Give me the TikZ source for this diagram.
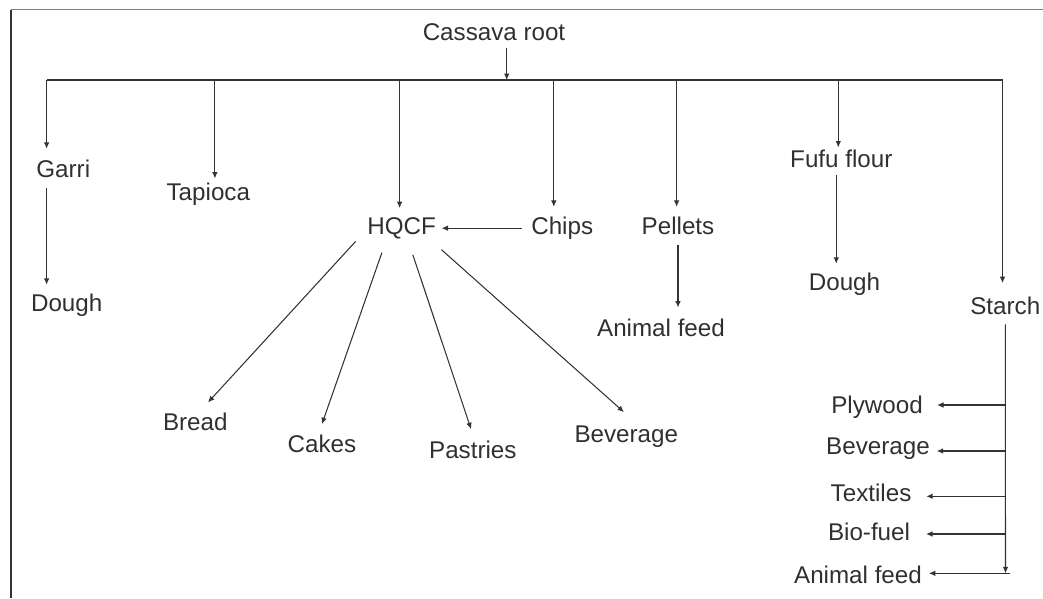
\documentclass[tikz,border=0pt]{standalone}
\usepackage{fontspec}
\setmainfont{Liberation Sans}
\usepackage{xcolor}
\usepackage{tikz}
\usetikzlibrary{positioning,arrows.meta}

\definecolor{txtgray}{HTML}{303030}
\definecolor{linegray}{HTML}{333333}

\begin{document}
\begin{tikzpicture}[
			x=0.025cm, y=-0.025cm,
			item/.style={
				font=\fontsize{17.2}{20}\selectfont, text=txtgray,
				inner sep=0pt, text height=12.5pt, text depth=3.5pt
			},
			arr/.style={-{Latex[length=4.6pt,width=4pt]}, line width=0.75pt, draw=linegray},
			link/.style={line width=0.75pt, draw=linegray}
			]
			\useasboundingbox (0,0) rectangle (1043,598);
			
			%==================== frame ====================
			\draw[line width=1.4pt, draw=gray] (11.3,9.5) -- (1043,9.5);
			\draw[line width=1.4pt, draw=black!80] (11.3,9.5) -- (11.3,598);
			
			%==================== root ====================
			\node[item] (root) at (494,34.2) {Cassava root};
			\coordinate (top) at (506.7,80);
			\coordinate (b1) at (46.6,80);
			\coordinate (b2) at (214.9,80);
			\coordinate (b3) at (399.6,80);
			\coordinate (b4) at (553.8,80);
			\coordinate (b5) at (676.6,80);
			\coordinate (b6) at (838.3,80);
			\coordinate (b7) at (1002.5,80);
			
			%==================== first level ====================
			\node[item] (garri) at (63.3,171) {Garri};
			\node[item] (tapioca) at (208.3,193.7) {Tapioca};
			\node[item] (hqcf) at (401.7,228.2) {HQCF};
			\node[item] (chips) at (562.2,228.2) {Chips};
			\node[item] (pellets) at (678,228.2) {Pellets};
			\node[item] (fufu) at (841.3,161.4) {Fufu flour};
			\node[item] (starch) at (1005.3,307.7) {Starch};
			
			%==================== second level ====================
			\node[item] (dough1) at (66.7,305.4) {Dough};
			\node[item] (feed1) at (661,330.4) {Animal feed};
			\node[item] (dough2) at (844.5,284.4) {Dough};
			
			\node[item] (bread) at (195.3,423.7) {Bread};
			\node[item] (cakes) at (321.9,446.4) {Cakes};
			\node[item] (pastries) at (472.8,452) {Pastries};
			\node[item] (bev1) at (626.3,436) {Beverage};
			
			\node[item] (plywood) at (877,407) {Plywood};
			\node[item] (bev2) at (878,447.7) {Beverage};
			\node[item] (textiles) at (871,495.4) {Textiles};
			\node[item] (biofuel) at (869,534) {Bio-fuel};
			\node[item] (feed2) at (858,577) {Animal feed};
			
			%==================== connectors ====================
			\draw[arr, shorten <=1.3pt] (root.south -| top) -- (top);
			\draw[link] (b1) -- (b7);
			
			\draw[arr, shorten >=7.6pt] (b1) -- (b1 |- garri.north);
			\draw[arr, shorten >=2.6pt] (b2) -- (b2 |- tapioca.north);
			\draw[arr, shorten >=6.1pt] (b3) -- (b3 |- hqcf.north);
			\draw[arr, shorten >=7pt] (b4) -- (b4 |- chips.north);
			\draw[arr, shorten >=7pt] (b5) -- (b5 |- pellets.north);
			\draw[arr, shorten >=1.7pt] (b6) -- (b6 |- fufu.north);
			\draw[arr, shorten >=9.3pt] (b7) -- (b7 |- starch.north);
			
			\draw[arr, shorten <=3.9pt, shorten >=6.5pt] (b1 |- garri.south) -- (b1 |- dough1.north);
			\draw[arr, shorten <=6.7pt, shorten >=3.8pt] (chips.west) -- (hqcf.east);
			\draw[arr, shorten <=3.5pt, shorten >=8.1pt] (pellets.south) -- (pellets.south |- feed1.north);
			\draw[arr, shorten <=1.7pt, shorten >=6.5pt] ([xshift=-0.125cm]fufu.south) -- ([xshift=-0.125cm]fufu.south |- dough2.north);
			
			\draw[arr, shorten <=1.6pt, shorten >=9.4pt] ([xshift=-0.25cm]hqcf.south west) -- (bread.72);
			\draw[arr, shorten <=9.7pt, shorten >=8.1pt] (hqcf.217) -- (cakes.108);
			\draw[arr, shorten <=11.2pt, shorten >=8.5pt] (hqcf.-62) -- (pastries.80);
			\draw[arr, shorten <=10.6pt, shorten >=13.2pt] (hqcf.-22) -- (bev1.45);
			
			%==================== starch uses ====================
			\coordinate (s1) at (1005.5,405);
			\coordinate (s2) at (1005.5,451);
			\coordinate (s3) at (1005.5,496.3);
			\coordinate (s4) at (1005.5,534);
			\coordinate (s5) at (1005.5,573.3);
			\coordinate (s6) at (1010,573.3);
			\draw[arr, shorten <=3.6pt] (starch.south) -- (s5);
			\draw[arr, shorten >=10pt] (s1) -- (s1 -| plywood.east);
			\draw[arr, shorten >=4.7pt] (s2) -- (s2 -| bev2.east);
			\draw[arr, shorten >=10.4pt] (s3) -- (s3 -| textiles.east);
			\draw[arr, shorten >=11.2pt] (s4) -- (s4 -| biofuel.east);
			\draw[arr, shorten >=4.8pt] (s6) -- (s6 -| feed2.east);
			
		\end{tikzpicture}
\end{document}
